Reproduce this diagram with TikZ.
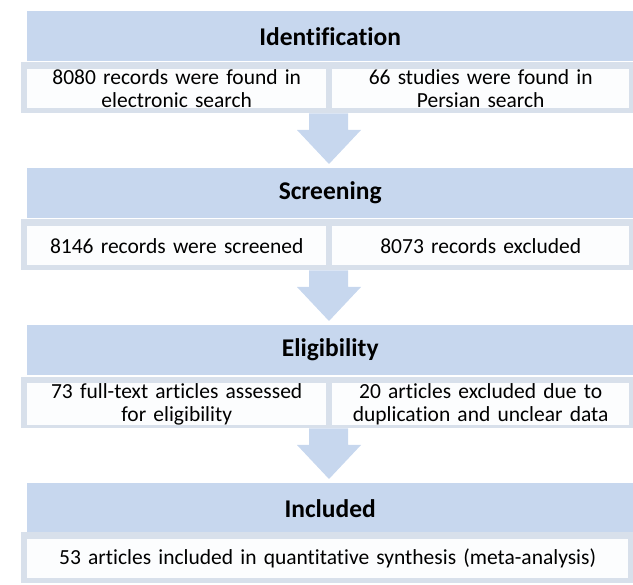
\documentclass[tikz,border=0pt]{standalone}
\usepackage{fontspec}
\setmainfont[Ligatures=NoCommon]{Carlito}
\usetikzlibrary{calc}
\definecolor{hdrc}{HTML}{C7D7EE}
\definecolor{contc}{HTML}{D8E0EB}
\definecolor{arrc}{HTML}{C7D7EE}
\definecolor{boxc}{HTML}{FCFDFE}
\begin{document}
\begin{tikzpicture}[x=1pt,y=-1pt,
  hdrbox/.style={fill=hdrc, draw=none, inner sep=0pt, anchor=north west,
    minimum width=606pt, minimum height=50pt,
    font=\fontsize{25.5}{28}\selectfont\bfseries},
  contbox/.style={fill=contc, draw=none, inner sep=0pt, anchor=north west,
    minimum width=612pt, minimum height=51pt},
  whitebox/.style={fill=boxc, draw=none, inner sep=0pt, anchor=north west,
    minimum height=39pt, align=center,
    font=\fontsize{21.5}{23.5}\selectfont},
  halfbox/.style={whitebox, minimum width=299pt, text width=297pt},
  halfboxr/.style={whitebox, minimum width=297pt, text width=295pt},
  fullbox/.style={whitebox, minimum width=601pt, text width=600pt},
  arrowfill/.style={fill=arrc, draw=none}]
\useasboundingbox (0,0) rectangle (633,585);
\coordinate (ax) at (329,0);

% Identification
\node[hdrbox] (h1) at (27,11) {Identification};
\node[contbox] (c1) at (21,62) {};
\node[halfbox] (l1) at (27,69) {8080 records were found in\\electronic search};
\node[halfboxr] (r1) at (332,69) {66 studies were found in\\Persian search};

% Screening
\node[hdrbox] (h2) at (27,168) {Screening};
\node[contbox] (c2) at (21,219) {};
\node[halfbox] (l2) at (27,226) {8146 records were screened};
\node[halfboxr] (r2) at (332,226) {8073 records excluded};

% Eligibility
\node[hdrbox] (h3) at (27,325) {Eligibility};
\node[contbox] (c3) at (21,377) {};
\node[halfbox] (l3) at (27,383) {73 full-text articles assessed\\for eligibility};
\node[halfboxr] (r3) at (332,383) {20 articles excluded due to\\duplication and unclear data};

% Included
\node[hdrbox] (h4) at (27,483) {Included};
\node[contbox] (c4) at (21,532) {};
\node[fullbox] (f4) at (27,539) {53 articles included in quantitative synthesis (meta-analysis)};

% Block arrows
\foreach \a/\b in {c1/h2, c2/h3, c3/h4}{
  \fill[arrowfill]
    ($(\a.south -| ax)+(-20,0)$) -- ($(\a.south -| ax)+(19,0)$)
    -- ($(\b.north -| ax)+(19,-38)$) -- ($(\b.north -| ax)+(32,-38)$)
    -- ($(\b.north -| ax)+(0,-4)$)
    -- ($(\b.north -| ax)+(-32,-38)$) -- ($(\b.north -| ax)+(-20,-38)$) -- cycle;
}
\end{tikzpicture}
\end{document}
